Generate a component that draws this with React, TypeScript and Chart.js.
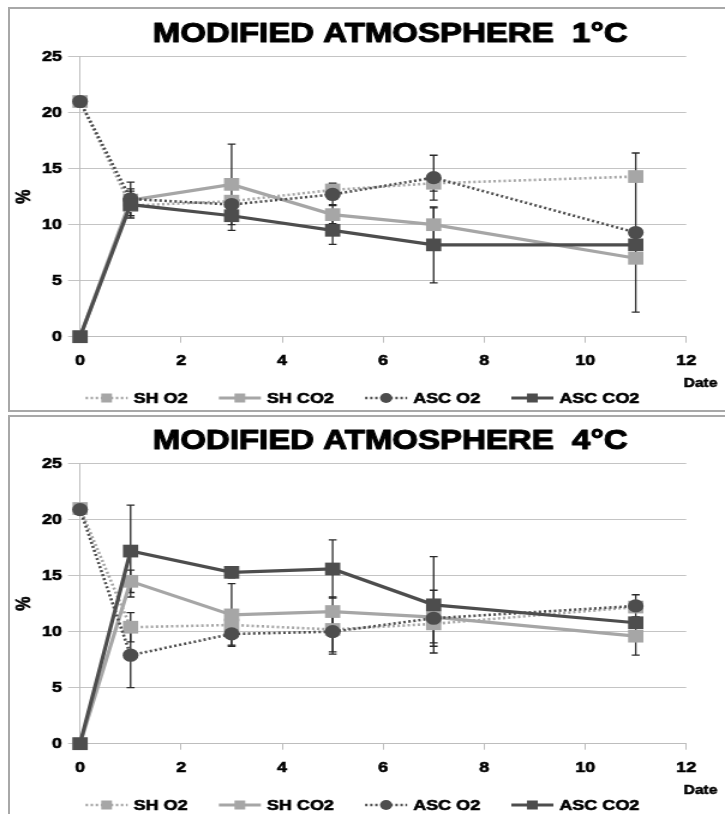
import React, { useEffect, useRef } from 'react';
import { Chart, registerables } from 'chart.js';

Chart.register(...registerables);

// ---------- data ----------
const DAYS = [0, 1, 3, 5, 7, 11];
const X_TICKS = [0, 2, 4, 6, 8, 10, 12];
const Y_TICKS = [0, 5, 10, 15, 20, 25];
const SERIES_NAMES = ['SH O2', 'SH CO2', 'ASC O2', 'ASC CO2'];
const X_AXIS_TITLE = 'Date';
const Y_AXIS_TITLE = '%';

const TITLE_1C = 'MODIFIED ATMOSPHERE  1°C';
const SH_O2_1C = [21, 11.7, 12.1, 13.1, 13.7, 14.3];
const SH_CO2_1C = [0, 12.2, 13.6, 10.9, 10.0, 7.0];
const ASC_O2_1C = [21, 12.3, 11.8, 12.7, 14.2, 9.3];
const ASC_CO2_1C = [0, 11.8, 10.8, 9.5, 8.2, 8.2];
const SH_O2_1C_ERR = [0, 0, 0, 0.6, 0.7, 0];
const SH_CO2_1C_ERR = [0, 1.0, 3.6, 0.8, 1.5, 0];
const ASC_O2_1C_ERR = [0, 1.5, 0, 0.9, 2.0, 7.1];
const ASC_CO2_1C_ERR = [0, 1.2, 1.3, 1.25, 3.4, 0];

const TITLE_4C = 'MODIFIED ATMOSPHERE  4°C';
const SH_O2_4C = [21, 10.4, 10.6, 10.2, 10.7, 12.2];
const SH_CO2_4C = [0, 14.5, 11.5, 11.8, 11.3, 9.6];
const ASC_O2_4C = [20.9, 7.9, 9.8, 10.0, 11.2, 12.3];
const ASC_CO2_4C = [0, 17.2, 15.3, 15.6, 12.4, 10.8];
const SH_O2_4C_ERR = [0, 1.3, 0, 2.0, 1.7, 0];
const SH_CO2_4C_ERR = [0, 1.0, 2.8, 1.3, 0, 1.7];
const ASC_O2_4C_ERR = [0, 2.9, 1.0, 2.0, 2.5, 1.0];
const ASC_CO2_4C_ERR = [0, 4.1, 0.5, 2.6, 4.3, 0];

// ---------- styles ----------
const LIGHT = '#a6a6a6';
const DARK = '#4d4d4d';
const FONT = '"Liberation Sans", Arial, Helvetica, sans-serif';
const SERIES_STYLE = [
  { color: LIGHT, dotted: true, point: 'rect' },
  { color: LIGHT, dotted: false, point: 'rect' },
  { color: DARK, dotted: true, point: 'circle' },
  { color: DARK, dotted: false, point: 'rect' },
];

const CW = 604; // canvas drawing width (stretched by CSS to 725)
const CH = 407;

function drawMarker(ctx: CanvasRenderingContext2D, kind: string, x: number, y: number, size: number, color: string) {
  ctx.fillStyle = color;
  if (kind === 'circle') {
    ctx.beginPath();
    ctx.arc(x, y, size / 2, 0, Math.PI * 2);
    ctx.fill();
  } else {
    ctx.fillRect(x - size / 2, y - size / 2, size, size);
  }
}

function heavyText(ctx: CanvasRenderingContext2D, text: string, x: number, y: number, w: number) {
  ctx.fillText(text, x, y);
  ctx.lineWidth = w;
  ctx.strokeStyle = '#000';
  ctx.lineJoin = 'round';
  ctx.strokeText(text, x, y);
}

function makeConfig(title: string, values: number[][], errors: number[][]): any {
  const datasets = values.map((vals, i) => {
    const st = SERIES_STYLE[i];
    return {
      label: SERIES_NAMES[i],
      data: DAYS.map((d, j) => ({ x: d, y: vals[j] })),
      borderColor: st.color,
      backgroundColor: st.color,
      borderWidth: st.dotted ? 2.6 : 3.2,
      borderDash: st.dotted ? [2, 2.2] : [],
      pointStyle: st.point,
      pointRadius: st.point === 'circle' ? 6.6 : 9,
      pointHoverRadius: st.point === 'circle' ? 6.6 : 9,
      pointBackgroundColor: st.color,
      pointBorderColor: st.color,
      pointBorderWidth: 0,
      tension: 0,
      clip: false,
      order: 3 - i,
    };
  });

  const customPlugin = {
    id: 'custom',
    beforeDatasetsDraw(chart: any) {
      const ctx = chart.ctx;
      const ys = chart.scales.y;
      ctx.save();
      ctx.strokeStyle = '#2a2a2a';
      ctx.lineWidth = 1.3;
      errors.forEach((errs, i) => {
        const meta = chart.getDatasetMeta(i);
        errs.forEach((e, j) => {
          if (!e) return;
          const pt = meta.data[j];
          const v = values[i][j];
          const yt = ys.getPixelForValue(v + e);
          const yb = ys.getPixelForValue(v - e);
          const x = pt.x;
          ctx.beginPath();
          ctx.moveTo(x, yt);
          ctx.lineTo(x, yb);
          ctx.moveTo(x - 3.3, yt);
          ctx.lineTo(x + 3.3, yt);
          ctx.moveTo(x - 3.3, yb);
          ctx.lineTo(x + 3.3, yb);
          ctx.stroke();
        });
      });
      ctx.restore();
    },
    afterDraw(chart: any) {
      const ctx = chart.ctx;
      const area = chart.chartArea;
      ctx.save();
      // title
      ctx.fillStyle = '#000';
      ctx.font = `bold 27.5px ${FONT}`;
      ctx.textAlign = 'center';
      ctx.textBaseline = 'alphabetic';
      heavyText(ctx, title, 325, 42, 1.1);
      // y axis title
      ctx.save();
      ctx.translate(21, (area.top + area.bottom) / 2);
      ctx.rotate(-Math.PI / 2);
      ctx.font = `bold 16px ${FONT}`;
      ctx.textBaseline = 'middle';
      ctx.textAlign = 'center';
      heavyText(ctx, Y_AXIS_TITLE, 0, 0, 0.6);
      ctx.restore();
      // x axis title
      ctx.fillStyle = '#000';
      ctx.font = `bold 13px ${FONT}`;
      ctx.textAlign = 'left';
      ctx.textBaseline = 'middle';
      heavyText(ctx, X_AXIS_TITLE, 569.5, 383, 0.5);
      // legend
      ctx.font = `bold 15px ${FONT}`;
      const SAMPLE = 35, TEXT_OFF = 40, GAP = 26;
      const widths = SERIES_NAMES.map((n) => ctx.measureText(n).width);
      const total = widths.reduce((a, w) => a + w + TEXT_OFF, 0) + GAP * (SERIES_NAMES.length - 1);
      let x = (chart.width - total) / 2;
      const ly = 398;
      SERIES_NAMES.forEach((name, i) => {
        const st = SERIES_STYLE[i];
        ctx.save();
        ctx.strokeStyle = st.color;
        ctx.lineWidth = st.dotted ? 2.5 : 3;
        ctx.setLineDash(st.dotted ? [2, 2.2] : []);
        ctx.beginPath();
        ctx.moveTo(x, ly);
        ctx.lineTo(x + SAMPLE, ly);
        ctx.stroke();
        ctx.restore();
        drawMarker(ctx, st.point, x + SAMPLE / 2, ly, st.point === 'circle' ? 10 : 9, st.color);
        ctx.fillStyle = '#000';
        ctx.textAlign = 'left';
        ctx.textBaseline = 'middle';
        heavyText(ctx, name, x + TEXT_OFF, ly + 1, 0.6);
        x += TEXT_OFF + widths[i] + GAP;
      });
      ctx.restore();
    },
  };

  const tickFont = { family: FONT, size: 15, weight: 'bold' };

  return {
    type: 'line',
    data: { datasets },
    plugins: [customPlugin],
    options: {
      responsive: false,
      animation: false,
      devicePixelRatio: 1,
      events: [],
      layout: { padding: { top: 56.7, left: 10, right: 32.3, bottom: 40.3 } },
      plugins: { legend: { display: false }, title: { display: false }, tooltip: { enabled: false } },
      scales: {
        x: {
          type: 'linear',
          min: 0,
          max: 12,
          afterBuildTicks: (s: any) => { s.ticks = X_TICKS.map((v) => ({ value: v })); },
          afterFit: (s: any) => { s.height = 30; },
          ticks: { color: '#000', font: tickFont, padding: 9, maxRotation: 0, textStrokeColor: '#000', textStrokeWidth: 0.6 },
          grid: { drawOnChartArea: false, drawTicks: true, tickLength: 6, color: '#bdbdbd' },
          border: { display: true, color: '#bdbdbd', width: 1 },
        },
        y: {
          type: 'linear',
          min: 0,
          max: 25,
          afterBuildTicks: (s: any) => { s.ticks = Y_TICKS.map((v) => ({ value: v })); },
          afterFit: (s: any) => { s.width = 56.7; },
          ticks: { color: '#000', font: tickFont, padding: 5, textStrokeColor: '#000', textStrokeWidth: 0.6 },
          grid: { color: '#c4c4c4', tickLength: 10, lineWidth: 1 },
          border: { display: true, color: '#bdbdbd', width: 1 },
        },
      },
    },
  };
}

function ChartCanvas({ cfg, top }: { cfg: any; top: number }) {
  const ref = useRef<HTMLCanvasElement>(null);
  useEffect(() => {
    const chart = new Chart(ref.current as HTMLCanvasElement, cfg);
    return () => chart.destroy();
  }, []);
  return (
    <canvas
      ref={ref}
      width={CW}
      height={CH}
      style={{ position: 'absolute', left: 0, top, width: '725px', height: CH + 'px' }}
    />
  );
}

export default function App() {
  const cfg1 = makeConfig(
    TITLE_1C,
    [SH_O2_1C, SH_CO2_1C, ASC_O2_1C, ASC_CO2_1C],
    [SH_O2_1C_ERR, SH_CO2_1C_ERR, ASC_O2_1C_ERR, ASC_CO2_1C_ERR]
  );
  const cfg2 = makeConfig(
    TITLE_4C,
    [SH_O2_4C, SH_CO2_4C, ASC_O2_4C, ASC_CO2_4C],
    [SH_O2_4C_ERR, SH_CO2_4C_ERR, ASC_O2_4C_ERR, ASC_CO2_4C_ERR]
  );
  return (
    <div style={{ position: 'fixed', left: 0, top: 0, width: 725, height: 814, overflow: 'hidden', background: '#fff' }}>
      <div style={{ position: 'absolute', left: 8, top: 7, width: 800, height: 405, border: '2px solid #a8a8a8', boxSizing: 'border-box' }} />
      <div style={{ position: 'absolute', left: 8, top: 415, width: 800, height: 420, border: '2px solid #a8a8a8', boxSizing: 'border-box' }} />
      <ChartCanvas cfg={cfg1} top={0} />
      <ChartCanvas cfg={cfg2} top={407} />
    </div>
  );
}
